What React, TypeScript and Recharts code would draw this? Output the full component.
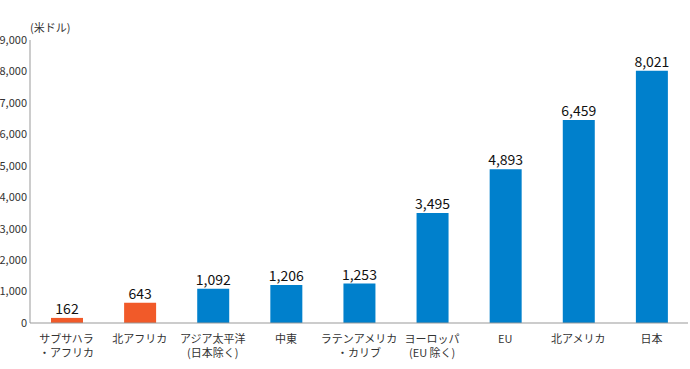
import { BarChart, Bar, XAxis, YAxis, Cell, LabelList } from "recharts";

const regions = [
  "サブサハラ\n・アフリカ",
  "北アフリカ",
  "アジア太平洋\n(日本除く)",
  "中東",
  "ラテンアメリカ\n・カリブ",
  "ヨーロッパ\n(EU 除く)",
  "EU",
  "北アメリカ",
  "日本",
];
const values = [162, 643, 1092, 1206, 1253, 3495, 4893, 6459, 8021];
const barColors = ["#f15a29", "#f15a29", "#0080cc", "#0080cc", "#0080cc", "#0080cc", "#0080cc", "#0080cc", "#0080cc"];
const yTicks = [0, 1000, 2000, 3000, 4000, 5000, 6000, 7000, 8000, 9000];

const FONT = "'Noto Sans CJK JP', 'Noto Sans', sans-serif";

const chartData = regions.map((name, i) => ({ name, value: values[i] }));

function RegionTick(props: any) {
  const { x, y, payload } = props;
  const lines = String(payload.value).split("\n");
  return (
    <g transform={`translate(${x},${y})`}>
      {lines.map((line, i) => (
        <text key={i} x={0} y={12 + i * 14} textAnchor="middle" fontSize={11} fill="#333" fontFamily={FONT}>
          {line}
        </text>
      ))}
    </g>
  );
}

export default function App() {
  return (
    <div style={{ position: "absolute", left: 0, top: 0, width: 690, height: 369, background: "#fff", fontFamily: FONT }}>
      <span style={{ position: "absolute", left: 30, top: 19, fontSize: 11, color: "#333" }}>(米ドル)</span>
      <BarChart width={690} height={369} data={chartData} margin={{ top: 40, right: 2, left: 0, bottom: 0 }}>
        <XAxis
          dataKey="name"
          height={46}
          interval={0}
          tick={<RegionTick />}
          tickLine={false}
          axisLine={{ stroke: "#999" }}
        />
        <YAxis
          width={30}
          domain={[0, 9000]}
          ticks={yTicks}
          interval={0}
          tickSize={0}
          tickMargin={3}
          tickLine={false}
          axisLine={{ stroke: "#999" }}
          tick={{ fontSize: 11, fill: "#333", fontFamily: FONT }}
          tickFormatter={(v) => v.toLocaleString("en-US")}
        />
        <Bar dataKey="value" barSize={32} isAnimationActive={false}>
          {chartData.map((d, i) => (
            <Cell key={d.name} fill={barColors[i]} />
          ))}
          <LabelList
            dataKey="value"
            position="top"
            offset={4}
            formatter={(v: any) => Number(v).toLocaleString("en-US")}
            style={{ fontSize: 14, fill: "#111", fontFamily: FONT }}
          />
        </Bar>
      </BarChart>
    </div>
  );
}
